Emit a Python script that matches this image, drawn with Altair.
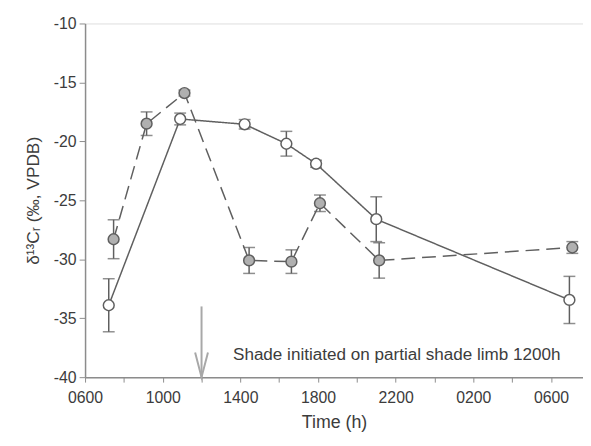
import altair as alt
import pandas as pd

# ---- data (hours since 00:00 of day 1) ----
sun_time = [7.22, 10.9, 14.22, 16.37, 17.9, 21.0, 30.95]
sun_value = [-33.9, -18.1, -18.55, -20.2, -21.9, -26.6, -33.45]
sun_err = [2.25, 0.5, 0.4, 1.05, 0.3, 1.9, 2.0]

shade_time = [7.47, 9.17, 11.12, 14.45, 16.63, 18.1, 21.15, 31.1]
shade_value = [-28.3, -18.5, -15.9, -30.1, -30.2, -25.25, -30.1, -29.0]
shade_err = [1.65, 1.0, 0.25, 1.1, 1.0, 0.7, 1.5, 0.5]

x_tick_values = [6, 8, 10, 12, 14, 16, 18, 20, 22, 24, 26, 28, 30]
x_tick_labels = ["0600", "", "1000", "", "1400", "", "1800", "", "2200", "", "0200", "", "0600"]
y_tick_values = [-40, -35, -30, -25, -20, -15, -10]

arrow_x = [12]
arrow_top = [-34.0]
arrow_bottom = [-40.0]
note_x = [13.62]
note_y = [-38.1]
note_text = ["Shade initiated on partial shade limb 1200h"]

sun = pd.DataFrame({"t": sun_time, "v": sun_value, "e": sun_err})
shade = pd.DataFrame({"t": shade_time, "v": shade_value, "e": shade_err})
for d in (sun, shade):
    d["lo"] = d["v"] - d["e"]
    d["hi"] = d["v"] + d["e"]

label_map = "{" + ",".join(f"'{v}':'{l}'" for v, l in zip(x_tick_values, x_tick_labels)) + "}"

AX = "#8c8c8c"
LINE = "#5f5f5f"
TXT = "#3c3c3c"
FONT = "Liberation Sans"

xscale = alt.Scale(domain=[6, 31.65], nice=False, zero=False)
yscale = alt.Scale(domain=[-40, -10], nice=False, zero=False)

xenc = alt.X("t:Q", scale=xscale, axis=alt.Axis(
    values=x_tick_values, labelExpr=f"{label_map}[toString(datum.value)]",
    title="Time (h)", grid=False, domainColor=AX, tickColor=AX, tickSize=5,
    labelFontSize=16, labelColor=TXT, labelPadding=8, labelFont=FONT,
    titleFontSize=18, titleFont=FONT, titleColor=TXT, titleFontWeight="normal",
    titlePadding=8, labelFlush=False, domainWidth=1.5))
yenc = alt.Y("v:Q", scale=yscale, axis=alt.Axis(
    values=y_tick_values, labelExpr="toString(datum.value)",
    title="δ¹³Cᵣ (‰, VPDB)", grid=False, domainColor=AX,
    tickColor=AX, tickSize=6, labelFontSize=16, labelColor=TXT, labelPadding=3,
    labelFont=FONT, titleFontSize=17.5, titleFont=FONT, titleColor=TXT,
    titleFontWeight="normal", titlePadding=11, domainWidth=1.5))


def series(df, dash, fill):
    base = alt.Chart(df)
    line = base.mark_line(color=LINE, strokeWidth=1.5, strokeDash=dash).encode(x=xenc, y=yenc)
    err = base.mark_rule(color=LINE, strokeWidth=1.5).encode(
        x="t:Q", y=alt.Y("lo:Q", scale=yscale), y2="hi:Q")
    cap_lo = base.mark_tick(color=LINE, orient="horizontal", size=12, thickness=1.5).encode(
        x="t:Q", y=alt.Y("lo:Q", scale=yscale))
    cap_hi = base.mark_tick(color=LINE, orient="horizontal", size=12, thickness=1.5).encode(
        x="t:Q", y=alt.Y("hi:Q", scale=yscale))
    pts = base.mark_point(shape="circle", filled=True, size=120, fill=fill, stroke=LINE,
                          strokeWidth=1.5, opacity=1).encode(x="t:Q", y=alt.Y("v:Q", scale=yscale))
    return [line, err, cap_lo, cap_hi, pts]


arrow_df = pd.DataFrame({"t": arrow_x, "top": arrow_top, "bot": arrow_bottom})
arrow_line = alt.Chart(arrow_df).mark_rule(color="#a8a8a8", strokeWidth=2).encode(
    x=alt.X("t:Q", scale=xscale), y=alt.Y("top:Q", scale=yscale), y2="bot:Q")
arrow_head = alt.Chart(arrow_df).mark_point(
    shape="M -0.26 -1 L 0 0 L 0.26 -1", size=2500, filled=False, stroke="#a8a8a8",
    strokeWidth=2, opacity=1).encode(x=alt.X("t:Q", scale=xscale), y=alt.Y("bot:Q", scale=yscale))

note_df = pd.DataFrame({"t": note_x, "v": note_y, "s": note_text})
note = alt.Chart(note_df).mark_text(align="left", baseline="middle", fontSize=17.3,
                                     font=FONT, color=TXT).encode(
    x=alt.X("t:Q", scale=xscale), y=alt.Y("v:Q", scale=yscale), text="s:N")

layers = series(sun, [1, 0], "white") + series(shade, [14, 7], "#b0b0b0")
chart = alt.layer(arrow_line, arrow_head, *layers, note).properties(
    width=504, height=358,
    autosize=alt.AutoSizeParams(type="none"),
    padding={"left": 78, "top": 13, "right": 0, "bottom": 67},
).configure_view(stroke=None).configure(background="white")

chart.save("out.html", embed_options={"renderer": "svg", "actions": False})
